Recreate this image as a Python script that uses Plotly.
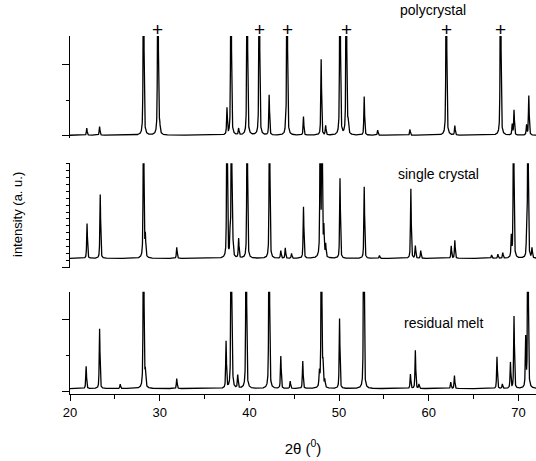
import numpy as np
import plotly.graph_objects as go

# 2-theta grid (degrees)
two_theta = np.arange(20.0, 72.0, 0.01)

# Peak lists: positions (deg) and heights above background (axis units)
poly_pos = [21.87, 23.3, 28.2, 29.8, 30.0, 37.5, 37.95, 38.8, 39.75, 41.1, 42.2,
            44.05, 44.2, 46.03, 48.0, 48.5, 50.1, 50.8, 51.0, 52.8, 54.3, 57.9,
            61.95, 62.9, 68.0, 69.3, 69.5, 70.9, 71.15]
poly_h = [0.10, 0.12, 3.0, 3.0, 0.12, 0.37, 3.0, 0.09, 3.0, 3.0, 0.56,
          0.12, 3.0, 0.26, 1.06, 0.13, 3.0, 3.0, 0.15, 0.54, 0.07, 0.08,
          3.0, 0.13, 3.0, 0.15, 0.35, 0.14, 0.55]
poly_bg = 0.01

single_pos = [21.9, 23.37, 28.2, 28.4, 31.9, 37.5, 37.85, 38.0, 38.15, 38.8, 39.75,
              42.24, 43.5, 44.0, 44.7, 46.03, 47.9, 48.1, 48.3, 48.5, 50.1, 52.8,
              54.5, 58.0, 58.5, 59.1, 62.5, 62.9, 67.0, 67.7, 68.25, 69.2, 69.45,
              70.9, 71.05, 71.5]
single_h = [5.0, 9.2, 25.0, 3.0, 1.6, 25.0, 3.0, 25.0, 2.0, 2.8, 25.0,
            25.0, 1.1, 1.5, 0.7, 7.4, 25.0, 25.0, 4.0, 1.8, 11.5, 10.3,
            0.4, 10.0, 1.8, 1.1, 1.8, 2.6, 0.5, 0.6, 0.8, 3.0, 25.0,
            2.5, 25.0, 1.4]
single_bg = 1.33

melt_pos = [21.8, 23.3, 25.6, 28.2, 28.4, 31.9, 37.4, 37.97, 38.08, 38.7, 39.64,
            42.2, 43.5, 44.55, 45.95, 47.8, 48.03, 48.2, 48.4, 50.05, 52.75,
            57.95, 58.5, 58.9, 62.45, 62.86, 67.6, 68.2, 69.1, 69.5, 70.8, 71.05]
melt_h = [0.31, 0.83, 0.06, 3.0, 0.2, 0.14, 0.65, 3.0, 0.4, 0.18, 3.0,
          3.0, 0.45, 0.1, 0.38, 0.2, 3.0, 0.3, 0.1, 0.97, 3.0,
          0.2, 0.53, 0.06, 0.09, 0.18, 0.44, 0.06, 0.36, 1.0, 0.68, 3.0]
melt_bg = 0.045

marked_peaks = [29.8, 41.1, 44.2, 50.8, 61.95, 68.0]
x_ticks = [20, 30, 40, 50, 60, 70]

FWHM = 0.1
ETA = 0.55


def pattern(pos, h, bg):
    y = np.full_like(two_theta, bg)
    hw = FWHM / 2.0
    sig = FWHM / 2.3548
    for p, a in zip(pos, h):
        d = two_theta - p
        lor = hw ** 2 / (d ** 2 + hw ** 2)
        gau = np.exp(-0.5 * (d / sig) ** 2)
        y += a * (ETA * lor + (1 - ETA) * gau)
    return y


FONT = "Arial, Liberation Sans, sans-serif"
line = dict(color="black", width=1.3)

fig = go.Figure()
fig.add_trace(go.Scatter(x=two_theta, y=pattern(melt_pos, melt_h, melt_bg),
                         mode="lines", line=line, xaxis="x", yaxis="y"))
fig.add_trace(go.Scatter(x=two_theta, y=pattern(single_pos, single_h, single_bg),
                         mode="lines", line=line, xaxis="x", yaxis="y2"))
fig.add_trace(go.Scatter(x=two_theta, y=pattern(poly_pos, poly_h, poly_bg),
                         mode="lines", line=line, xaxis="x", yaxis="y3"))

yax_common = dict(showline=True, linecolor="black", linewidth=1, showgrid=False,
                  zeroline=False, showticklabels=False, ticks="outside",
                  ticklen=7, tickcolor="black", anchor="x", fixedrange=True)

fig.update_layout(
    width=536, height=461,
    margin=dict(l=70, r=0, t=36, b=67),
    paper_bgcolor="white", plot_bgcolor="white",
    showlegend=False,
    font=dict(family=FONT, color="black", size=13),
    xaxis=dict(range=[20, 71.95], showline=True, linecolor="black", linewidth=1,
               showgrid=False, zeroline=False, ticks="outside", ticklen=6,
               tickcolor="black", tickvals=x_ticks, anchor="y",
               minor=dict(ticks="outside", ticklen=4, tickcolor="black", dtick=5, tick0=25),
               tickfont=dict(size=13),
               title=dict(text="2θ (<sup>0</sup>)", font=dict(size=15), standoff=24)),
    yaxis=dict(domain=[0, 0.2857], range=[-0.03, 1.389], tickvals=[0, 1],
               minor=dict(ticks="outside", ticklen=3.5, tickcolor="black", dtick=0.5, tick0=0),
               **yax_common),
    yaxis2=dict(domain=[0.3529, 0.6443], range=[0, 15], tickvals=[0],
                minor=dict(ticks="outside", ticklen=3.5, tickcolor="black", dtick=1, tick0=0),
                **yax_common),
    yaxis3=dict(domain=[0.7143, 1.0], range=[-0.032, 1.396], tickvals=[0, 1],
                minor=dict(ticks="outside", ticklen=3.5, tickcolor="black", dtick=0.5, tick0=0),
                **yax_common),
)

H_PLOT = 461 - 36 - 67


def py(px):
    # pixel row -> paper coordinate
    return (461 - 67 - px) / H_PLOT


ann = []
ann.append(dict(text="polycrystal", x=433, y=py(10)))
ann.append(dict(text="single crystal", x=438, y=py(174)))
ann.append(dict(text="residual melt", x=443, y=py(323)))
for a in ann:
    a.update(xref="paper", yref="paper", showarrow=False, xanchor="center",
             yanchor="middle", font=dict(size=14, family=FONT))
    a["x"] = (a["x"] - 70) / (536 - 70)

for p in marked_peaks:
    ann.append(dict(text="+", x=p, y=py(29), xref="x", yref="paper",
                    showarrow=False, xanchor="center", yanchor="middle",
                    font=dict(size=19, family=FONT)))

ann.append(dict(text="intensity (a. u.)", x=(17 - 70) / 466, y=py(215),
                xref="paper", yref="paper", showarrow=False, textangle=-90,
                xanchor="center", yanchor="middle", font=dict(size=13, family=FONT)))

fig.update_layout(annotations=ann)

fig.write_html("out.html")
